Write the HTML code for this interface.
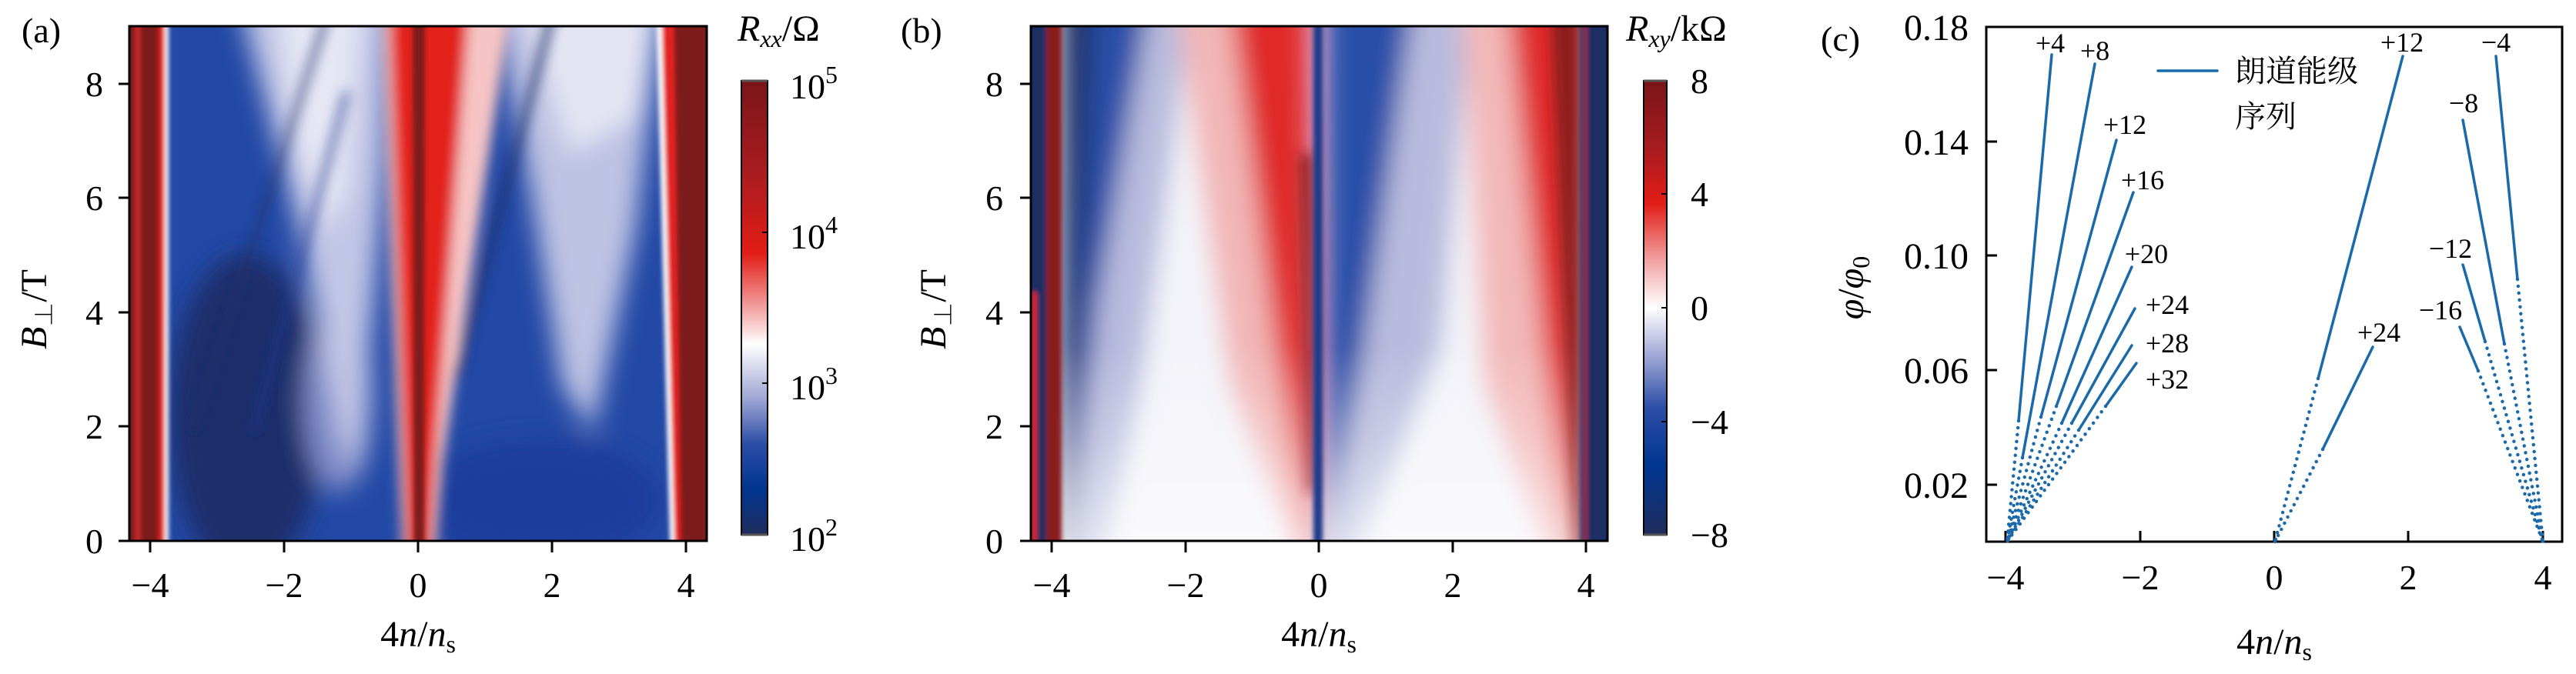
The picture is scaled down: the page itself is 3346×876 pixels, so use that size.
<!DOCTYPE html>
<html><head><meta charset="utf-8"><style>
html,body{margin:0;padding:0;background:#fff;}
svg{display:block;font-family:"Liberation Serif","Noto Serif CJK SC",serif;}
</style></head><body>
<svg width="3346" height="876" viewBox="0 0 3346 876" xmlns="http://www.w3.org/2000/svg">
<defs>
<clipPath id="ca"><rect x="168" y="34" width="750" height="669"/></clipPath>
<clipPath id="cb"><rect x="1339" y="34" width="749" height="669"/></clipPath>
<filter id="bl" x="-20%" y="-20%" width="140%" height="140%"><feGaussianBlur stdDeviation="16"/></filter>
<filter id="bm" x="-20%" y="-20%" width="140%" height="140%"><feGaussianBlur stdDeviation="8"/></filter>
<filter id="bs" x="-20%" y="-20%" width="140%" height="140%"><feGaussianBlur stdDeviation="3"/></filter>
<linearGradient id="cbar1" x1="0" y1="0" x2="0" y2="1">
<stop offset="0" stop-color="#7a1519"/><stop offset="0.2" stop-color="#a81c20"/><stop offset="0.38" stop-color="#e21d17"/>
<stop offset="0.5" stop-color="#f2a0a0"/><stop offset="0.58" stop-color="#ffffff"/><stop offset="0.7" stop-color="#9fa6d4"/>
<stop offset="0.8" stop-color="#2c4ea6"/><stop offset="0.9" stop-color="#003590"/><stop offset="1" stop-color="#1f2c5c"/></linearGradient>
<linearGradient id="cbar2" x1="0" y1="0" x2="0" y2="1">
<stop offset="0" stop-color="#7a1519"/><stop offset="0.15" stop-color="#a81c20"/><stop offset="0.27" stop-color="#e21d17"/>
<stop offset="0.4" stop-color="#f2a6a6"/><stop offset="0.5" stop-color="#ffffff"/><stop offset="0.6" stop-color="#a6acd8"/>
<stop offset="0.72" stop-color="#2c4ea6"/><stop offset="0.85" stop-color="#003590"/><stop offset="1" stop-color="#1f2c5c"/></linearGradient>
<linearGradient id="fadeB" x1="0" y1="0" x2="0" y2="1">
<stop offset="0" stop-color="#fff" stop-opacity="0"/><stop offset="0.5" stop-color="#fff" stop-opacity="0.4"/><stop offset="1" stop-color="#fff" stop-opacity="0.95"/></linearGradient>
</defs>

<!-- ===== Panel (a) ===== -->
<g clip-path="url(#ca)">
<rect x="168" y="34" width="750" height="669" fill="#2349a6"/>
<g filter="url(#bl)">
<ellipse cx="320" cy="540" rx="100" ry="210" fill="#1f2d6a"/>
<ellipse cx="700" cy="650" rx="160" ry="80" fill="#1a3e9c"/>
<ellipse cx="440" cy="520" rx="45" ry="120" fill="#7f8cc8"/>
<polygon points="310,0 505,0 500,200 480,450 465,620 440,560 390,300" fill="#c2c6e6"/>
<polygon points="360,0 470,0 450,250 420,300 380,160" fill="#e6e7f4"/>
<polygon points="640,0 860,0 825,300 770,560 730,500 690,250" fill="#bec2e3"/>
<polygon points="680,0 850,0 830,150 740,200" fill="#e4e5f3"/>
</g>
<g filter="url(#bm)">
<polygon points="495,0 665,0 575,600 564,740 524,740 518,600" fill="#f6c4c4"/>
<polygon points="505,0 610,0 565,600 557,740 530,740 525,600" fill="#e3241f"/>
<line x1="722" y1="0" x2="592" y2="492" stroke="#1e2d6a" stroke-width="8"/>
<line x1="431" y1="0" x2="250" y2="560" stroke="#1e2d6a" stroke-width="6"/>
<line x1="450" y1="120" x2="330" y2="560" stroke="#1e3590" stroke-width="6"/>
</g>
<g filter="url(#bs)">
<rect x="160" y="0" width="48" height="740" fill="#7d1a1e"/>
<rect x="176" y="0" width="6" height="740" fill="#d02a2a"/>
<rect x="206" y="0" width="8" height="740" fill="#e22420"/>
<rect x="214" y="0" width="5" height="740" fill="#ffffff"/>
<polygon points="852,0 878,0 891,740 871,740" fill="#ffffff"/>
<polygon points="859,0 880,0 891,740 877,740" fill="#e22420"/>
<polygon points="875,0 930,0 930,740 885,740" fill="#7d1a1e"/>
<polygon points="536,0 552,0 551,740 538,740" fill="#7d1a1e"/>
</g>
</g>
<rect x="168" y="34" width="750" height="669" fill="none" stroke="#000" stroke-width="3"/>
<g stroke="#000" stroke-width="3">
<line x1="195" y1="703" x2="195" y2="718"/><line x1="369" y1="703" x2="369" y2="718"/><line x1="543" y1="703" x2="543" y2="718"/><line x1="717" y1="703" x2="717" y2="718"/><line x1="891" y1="703" x2="891" y2="718"/>
<line x1="154" y1="703" x2="168" y2="703"/><line x1="154" y1="554" x2="168" y2="554"/><line x1="154" y1="406" x2="168" y2="406"/><line x1="154" y1="257" x2="168" y2="257"/><line x1="154" y1="109" x2="168" y2="109"/>
</g>
<g font-size="46" text-anchor="middle">
<text x="195" y="776">−4</text><text x="369" y="776">−2</text><text x="543" y="776">0</text><text x="717" y="776">2</text><text x="891" y="776">4</text>
</g>
<g font-size="46" text-anchor="end">
<text x="134" y="719">0</text><text x="134" y="570">2</text><text x="134" y="422">4</text><text x="134" y="273">6</text><text x="134" y="125">8</text>
</g>
<text x="543" y="840" font-size="48" text-anchor="middle">4<tspan font-style="italic">n</tspan>/<tspan font-style="italic">n</tspan><tspan font-size="32" dy="8">s</tspan></text>
<text transform="translate(60,402) rotate(-90)" font-size="48" text-anchor="middle"><tspan font-style="italic">B</tspan><tspan font-size="32" dy="8">⊥</tspan><tspan dy="-8">/T</tspan></text>
<text x="28" y="55" font-size="46">(a)</text>
<rect x="963" y="105" width="34" height="590" fill="url(#cbar1)" stroke="#000" stroke-width="2"/>
<line x1="963" y1="105" x2="997" y2="105" stroke="#555" stroke-width="3"/><line x1="963" y1="695" x2="997" y2="695" stroke="#555" stroke-width="3"/>
<g stroke="#000" stroke-width="2"><line x1="990" y1="302" x2="997" y2="302"/><line x1="990" y1="498" x2="997" y2="498"/></g>
<g font-size="46">
<text x="1026" y="128">10<tspan font-size="32" dy="-20">5</tspan></text>
<text x="1026" y="323">10<tspan font-size="32" dy="-20">4</tspan></text>
<text x="1026" y="519">10<tspan font-size="32" dy="-20">3</tspan></text>
<text x="1026" y="716">10<tspan font-size="32" dy="-20">2</tspan></text>
</g>
<text x="958" y="53" font-size="48"><tspan font-style="italic">R</tspan><tspan font-size="32" font-style="italic" dy="8">xx</tspan><tspan dy="-8">/Ω</tspan></text>

<!-- ===== Panel (b) ===== -->
<g clip-path="url(#cb)">
<rect x="1339" y="34" width="749" height="669" fill="#f3f3f9"/>
<g filter="url(#bl)">
<polygon points="1379,0 1548,0 1480,500 1430,740 1379,740" fill="#b8bbdd"/>
<polygon points="1379,0 1493,0 1425,400 1390,740 1379,740" fill="#2a4fa8"/>
<polygon points="1379,0 1420,0 1390,740 1379,740" fill="#1f2d63"/>
<polygon points="1528,0 1702,0 1707,740 1690,740 1600,500" fill="#f2b6b6"/>
<polygon points="1598,0 1702,0 1709,740 1696,740 1650,400" fill="#e0292a"/>
<polygon points="1719,0 1912,0 1870,450 1755,740 1719,740" fill="#b8bbdd"/>
<polygon points="1719,0 1836,0 1765,500 1724,740 1719,740" fill="#2a4fa8"/>
<polygon points="1898,0 2052,0 2052,740 2015,740 1930,500" fill="#f3b8b8"/>
<polygon points="1958,0 2052,0 2050,740 2034,740" fill="#e0292a"/>
</g>
<rect x="1339" y="450" width="749" height="253" fill="url(#fadeB)" opacity="0.6"/>
<g filter="url(#bm)">
<polygon points="1688,200 1704,200 1706,640 1699,640" fill="#8c1a1e"/>
<polygon points="2014,0 2052,0 2052,740 2046,740" fill="#8c1a1e"/>
</g>
<g filter="url(#bs)">
<rect x="1330" y="0" width="29" height="740" fill="#1f2d63"/>
<rect x="1339" y="380" width="8" height="360" fill="#d42525"/>
<rect x="1359" y="0" width="20" height="740" fill="#8a1a1e"/>
<rect x="1706" y="0" width="12" height="740" fill="#1c3a8a"/>
<rect x="2052" y="0" width="50" height="740" fill="#1f2d63"/>
<rect x="2058" y="0" width="3" height="740" fill="#c03030"/>
</g>
</g>
<rect x="1339" y="34" width="749" height="669" fill="none" stroke="#000" stroke-width="3"/>
<g stroke="#000" stroke-width="3">
<line x1="1366" y1="703" x2="1366" y2="718"/><line x1="1540" y1="703" x2="1540" y2="718"/><line x1="1713" y1="703" x2="1713" y2="718"/><line x1="1887" y1="703" x2="1887" y2="718"/><line x1="2060" y1="703" x2="2060" y2="718"/>
<line x1="1325" y1="703" x2="1339" y2="703"/><line x1="1325" y1="554" x2="1339" y2="554"/><line x1="1325" y1="406" x2="1339" y2="406"/><line x1="1325" y1="257" x2="1339" y2="257"/><line x1="1325" y1="109" x2="1339" y2="109"/>
</g>
<g font-size="46" text-anchor="middle">
<text x="1366" y="776">−4</text><text x="1540" y="776">−2</text><text x="1713" y="776">0</text><text x="1887" y="776">2</text><text x="2060" y="776">4</text>
</g>
<g font-size="46" text-anchor="end">
<text x="1303" y="719">0</text><text x="1303" y="570">2</text><text x="1303" y="422">4</text><text x="1303" y="273">6</text><text x="1303" y="125">8</text>
</g>
<text x="1713" y="840" font-size="48" text-anchor="middle">4<tspan font-style="italic">n</tspan>/<tspan font-style="italic">n</tspan><tspan font-size="32" dy="8">s</tspan></text>
<text transform="translate(1228,402) rotate(-90)" font-size="48" text-anchor="middle"><tspan font-style="italic">B</tspan><tspan font-size="32" dy="8">⊥</tspan><tspan dy="-8">/T</tspan></text>
<text x="1170" y="55" font-size="46">(b)</text>
<rect x="2135" y="105" width="30" height="590" fill="url(#cbar2)" stroke="#000" stroke-width="2"/>
<line x1="2135" y1="105" x2="2165" y2="105" stroke="#555" stroke-width="3"/><line x1="2135" y1="695" x2="2165" y2="695" stroke="#555" stroke-width="3"/>
<g stroke="#000" stroke-width="2"><line x1="2158" y1="252" x2="2165" y2="252"/><line x1="2158" y1="400" x2="2165" y2="400"/><line x1="2158" y1="548" x2="2165" y2="548"/></g>
<g font-size="46">
<text x="2196" y="121">8</text><text x="2196" y="268">4</text><text x="2196" y="416">0</text><text x="2196" y="564">−4</text><text x="2196" y="711">−8</text>
</g>
<text x="2112" y="53" font-size="48"><tspan font-style="italic">R</tspan><tspan font-size="32" font-style="italic" dy="8">xy</tspan><tspan dy="-8">/kΩ</tspan></text>

<!-- ===== Panel (c) ===== -->
<rect x="2580" y="35" width="748" height="669" fill="none" stroke="#000" stroke-width="3"/>
<g stroke="#000" stroke-width="3">
<line x1="2605" y1="704" x2="2605" y2="690"/><line x1="2780" y1="704" x2="2780" y2="690"/><line x1="2954" y1="704" x2="2954" y2="690"/><line x1="3128" y1="704" x2="3128" y2="690"/><line x1="3303" y1="704" x2="3303" y2="690"/>
<line x1="2580" y1="630" x2="2594" y2="630"/><line x1="2580" y1="481" x2="2594" y2="481"/><line x1="2580" y1="332" x2="2594" y2="332"/><line x1="2580" y1="184" x2="2594" y2="184"/>
</g>
<g font-size="48" text-anchor="end">
<text x="2557" y="647">0.02</text><text x="2557" y="498">0.06</text><text x="2557" y="349">0.10</text><text x="2557" y="201">0.14</text><text x="2557" y="52">0.18</text>
</g>
<g font-size="46" text-anchor="middle">
<text x="2605" y="766">−4</text><text x="2780" y="766">−2</text><text x="2954" y="766">0</text><text x="3128" y="766">2</text><text x="3303" y="766">4</text>
</g>
<text x="2954" y="850" font-size="48" text-anchor="middle">4<tspan font-style="italic">n</tspan>/<tspan font-style="italic">n</tspan><tspan font-size="32" dy="8">s</tspan></text>
<text transform="translate(2420,374) rotate(-90)" font-size="48" text-anchor="middle"><tspan font-style="italic">φ</tspan>/<tspan font-style="italic">φ</tspan><tspan font-size="32" dy="8">0</tspan></text>
<text x="2365" y="66" font-size="46">(c)</text>
<g stroke="#1a6aab" stroke-width="3.5" stroke-linecap="round" fill="none">
<line x1="2665" y1="71" x2="2622" y2="547"/>
<line x1="2721" y1="83" x2="2627" y2="595"/>
<line x1="2749" y1="182" x2="2651" y2="542"/>
<line x1="2771" y1="250" x2="2671" y2="528"/>
<line x1="2769" y1="347" x2="2678" y2="550"/>
<line x1="2773" y1="401" x2="2691" y2="550"/>
<line x1="2769" y1="449" x2="2700" y2="559"/>
<line x1="2775" y1="472" x2="2735" y2="528"/>
<line x1="3121" y1="73" x2="3011" y2="492"/>
<line x1="3082" y1="451" x2="3017" y2="584"/>
<line x1="3242" y1="73" x2="3270" y2="363"/>
<line x1="3199" y1="156" x2="3253" y2="447"/>
<line x1="3199" y1="344" x2="3228" y2="444"/>
<line x1="3195" y1="425" x2="3219" y2="482"/>
<line x1="2803" y1="92" x2="2880" y2="92"/>
</g>
<g stroke="#1a6aab" stroke-width="4.5" stroke-linecap="round" stroke-dasharray="0 9" fill="none">
<line x1="2622" y1="547" x2="2607" y2="704"/>
<line x1="2627" y1="595" x2="2607" y2="704"/>
<line x1="2651" y1="542" x2="2607" y2="704"/>
<line x1="2671" y1="528" x2="2607" y2="704"/>
<line x1="2678" y1="550" x2="2607" y2="704"/>
<line x1="2691" y1="550" x2="2607" y2="704"/>
<line x1="2700" y1="559" x2="2607" y2="704"/>
<line x1="2735" y1="528" x2="2607" y2="704"/>
<line x1="3011" y1="492" x2="2955" y2="704"/>
<line x1="3017" y1="584" x2="2955" y2="704"/>
<line x1="3270" y1="363" x2="3303" y2="704"/>
<line x1="3253" y1="447" x2="3303" y2="704"/>
<line x1="3228" y1="444" x2="3303" y2="704"/>
<line x1="3219" y1="482" x2="3303" y2="704"/>
</g>
<g font-size="36" text-anchor="middle">
<text x="2663" y="68">+4</text><text x="2721" y="78">+8</text><text x="2760" y="174">+12</text><text x="2783" y="246">+16</text>
<text x="2788" y="342">+20</text><text x="2815" y="408">+24</text><text x="2815" y="458">+28</text><text x="2815" y="505">+32</text>
<text x="3120" y="67">+12</text><text x="3090" y="444">+24</text><text x="3242" y="67">−4</text><text x="3200" y="146">−8</text>
<text x="3183" y="335">−12</text><text x="3170" y="415">−16</text>
</g>
<g font-family="'Noto Serif CJK SC','Noto Sans CJK SC',serif" font-size="40">
<text x="2903" y="106">朗道能级</text><text x="2903" y="165">序列</text>
</g>
</svg>
</body></html>
